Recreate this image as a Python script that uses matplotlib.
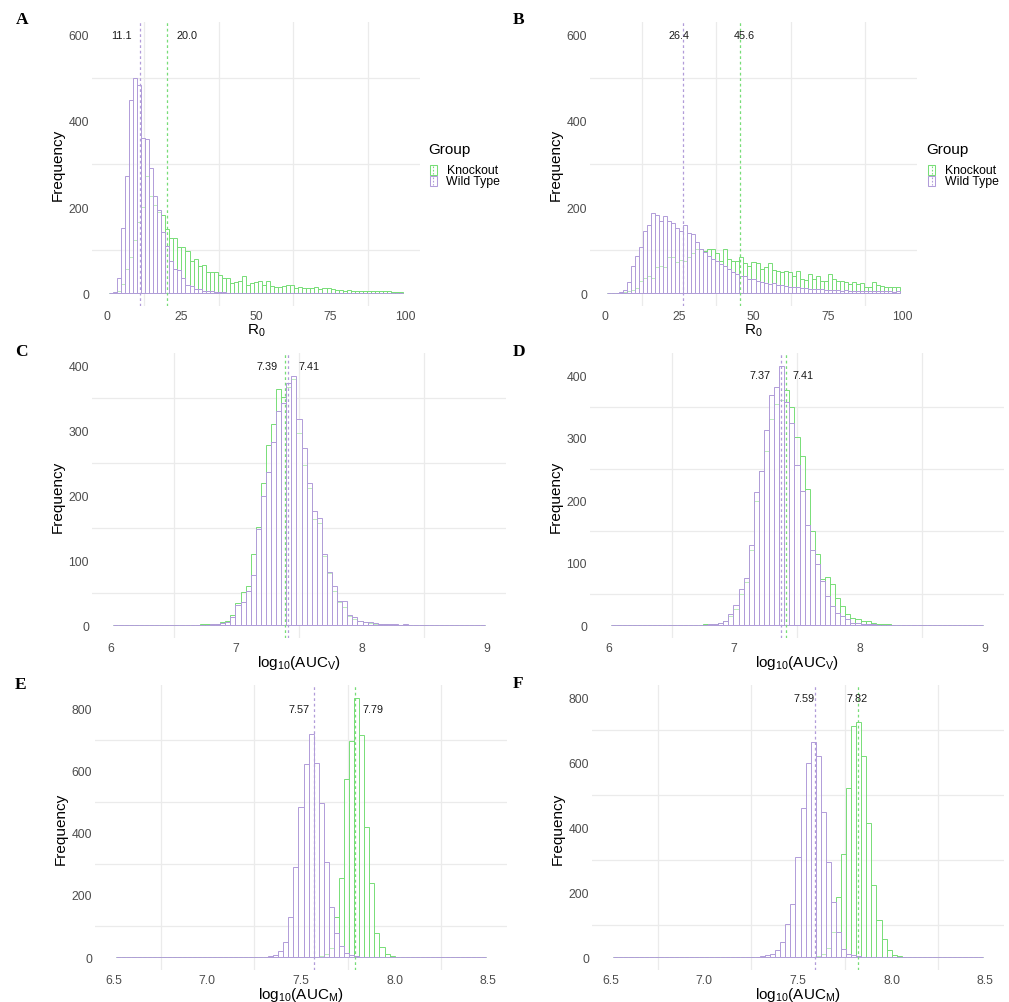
import numpy as np
import matplotlib
matplotlib.use("Agg")
import matplotlib.pyplot as plt
from matplotlib.patches import Rectangle
from matplotlib.lines import Line2D

plt.rcParams["font.family"] = ["Liberation Sans", "DejaVu Sans"]
plt.rcParams["mathtext.fontset"] = "custom"
plt.rcParams["mathtext.rm"] = "Liberation Sans"
plt.rcParams["mathtext.it"] = "Liberation Sans:italic"
plt.rcParams["mathtext.bf"] = "Liberation Sans:bold"

# ---------------------------------------------------------------- data
groups = ["Knockout", "Wild Type"]
N_VISIBLE = 73          # 75 bins over the axis limits; the two outermost are dropped

r0_limits = (0, 100)
aucv_limits = (6, 9)
aucm_limits = (6.5, 8.5)

r0_ticks = [0, 25, 50, 75, 100]
aucv_ticks = [6, 7, 8, 9]
aucm_ticks = [6.5, 7.0, 7.5, 8.0, 8.5]
aucm_tick_labels = ["6.5", "7.0", "7.5", "8.0", "8.5"]

# Panel A (R0, first model) - counts for bins 1..73
A_knockout = [0, 1, 5, 20, 55, 85, 124, 165, 200, 272, 225, 205, 188, 181, 148,
              127, 127, 106, 106, 98, 75, 79, 63, 65, 48, 49, 48, 42, 36, 34,
              23, 25, 28, 39, 19, 23, 25, 28, 19, 29, 17, 15, 15, 17, 19,
              19, 11, 15, 11, 12, 12, 13, 9, 11, 11, 9, 8, 8, 6, 8,
              6, 5, 5, 5, 6, 5, 6, 5, 6, 4, 3, 2, 2]
A_wildtype = [0, 3, 34, 152, 273, 448, 500, 483, 361, 358, 291, 226, 192, 141, 110,
              75, 56, 54, 36, 19, 17, 9, 9, 6, 5, 4, 3, 2, 2, 1,
              1, 1, 0, 1, 0, 0, 0, 0, 0, 0, 0, 0, 0, 0, 0,
              0, 0, 0, 0, 0, 0, 0, 0, 0, 0, 0, 0, 0, 0, 0,
              0, 0, 0, 0, 0, 0, 0, 0, 0, 0, 0, 0, 0]

# Panel B (R0, second model)
B_knockout = [0, 0, 0, 1, 3, 5, 8, 11, 29, 36, 40, 36, 60, 63, 60,
              83, 85, 73, 77, 75, 85, 93, 103, 102, 98, 102, 102, 94, 75, 103,
              80, 75, 75, 83, 71, 63, 73, 71, 56, 60, 69, 54, 52, 49, 52,
              49, 40, 52, 32, 31, 44, 32, 40, 29, 29, 44, 32, 29, 29, 26,
              21, 25, 21, 23, 15, 15, 25, 19, 17, 15, 15, 15, 13]
B_wildtype = [0, 0, 1, 3, 8, 25, 64, 87, 106, 145, 159, 185, 181, 168, 178,
              168, 162, 152, 144, 158, 140, 137, 119, 102, 96, 87, 79, 75, 67, 63,
              56, 49, 44, 40, 39, 32, 32, 29, 26, 23, 21, 23, 19, 19, 17,
              13, 15, 13, 11, 12, 10, 10, 9, 9, 8, 8, 8, 7, 6, 7,
              6, 6, 5, 6, 5, 5, 4, 5, 4, 4, 4, 3, 4]


def from_bin(first_bin, values):
    """Counts for bins 1..73, given the counts that start at bin `first_bin`."""
    arr = np.zeros(N_VISIBLE)
    arr[first_bin - 1:first_bin - 1 + len(values)] = values
    return arr


# Panel C (log10 AUC_V, first model)
C_knockout = from_bin(18, [1, 1, 2, 2, 4, 7, 15, 34, 51, 61, 109, 151, 219, 278, 310,
                           365, 352, 368, 380, 296, 247, 211, 164, 158, 106, 80, 52, 35,
                           28, 14, 10, 6, 4, 3, 2, 2, 1])
C_wildtype = from_bin(20, [1, 2, 3, 5, 12, 31, 35, 53, 78, 148, 200, 237, 283, 331,
                           343, 374, 385, 318, 273, 220, 176, 165, 110, 82, 61, 37, 37,
                           16, 12, 7, 5, 4, 3, 2, 2, 2, 1, 0, 1])
# Panel D (log10 AUC_V, second model)
D_knockout = from_bin(19, [1, 2, 2, 3, 6, 15, 26, 50, 69, 121, 199, 247, 279, 330, 354,
                           361, 376, 349, 302, 270, 218, 150, 113, 73, 77, 66, 44, 31,
                           18, 11, 9, 7, 7, 3, 2, 1, 1])
D_wildtype = from_bin(20, [1, 1, 3, 7, 18, 32, 58, 75, 128, 213, 247, 312, 368, 381,
                           415, 358, 323, 257, 215, 160, 121, 97, 71, 46, 31, 20, 15,
                           9, 4, 3, 2, 1, 1])
# Panel E (log10 AUC_M, first model)
E_knockout = from_bin(40, [1, 4, 11, 30, 130, 254, 572, 695, 834, 716, 420, 237, 78,
                           32, 9, 3, 1])
E_wildtype = from_bin(30, [1, 2, 7, 19, 48, 130, 289, 484, 622, 719, 626, 497, 305,
                           160, 78, 36, 12, 5, 2, 1])
# Panel F (log10 AUC_M, second model)
F_knockout = from_bin(41, [3, 10, 29, 78, 186, 319, 522, 713, 727, 620, 415, 224, 113,
                           55, 22, 7, 3, 1])
F_wildtype = from_bin(29, [1, 2, 5, 10, 21, 46, 103, 165, 308, 461, 600, 665, 620, 449,
                           293, 170, 77, 26, 10, 5, 2])

# medians (Knockout, Wild Type)
A_medians = (20.0, 11.1)
B_medians = (45.6, 26.4)
C_medians = (7.39, 7.41)
D_medians = (7.41, 7.37)
E_medians = (7.79, 7.57)
F_medians = (7.82, 7.59)
median_text = {"A": ("20.0", "11.1"), "B": ("45.6", "26.4"), "C": ("7.39", "7.41"),
               "D": ("7.41", "7.37"), "E": ("7.79", "7.57"), "F": ("7.82", "7.59")}

# ---------------------------------------------------------------- style / layout
W, H, DPI = 1009, 1003, 100
GREEN = "#77DD77"
PURPLE = "#B19CD9"
GRID = "#EBEBEB"
TICK_COLOR = "#4D4D4D"

panels = [
    dict(letter="A", box=(92, 23, 420, 307), lim=r0_limits, ticks=r0_ticks,
         ticklabels=[str(t) for t in r0_ticks], xminor=[12.5, 37.5, 62.5, 87.5],
         ylim=(-30, 630), yticks=[0, 200, 400, 600], yminor=[100, 300, 500],
         data=(A_knockout, A_wildtype), med=A_medians, labx=(27.0, 5.0), laby=600,
         xlabel=r"$\mathrm{R_0}$", letter_xy=(16, 20.5), legend=(428, 150)),
    dict(letter="B", box=(590, 23, 917, 307), lim=r0_limits, ticks=r0_ticks,
         ticklabels=[str(t) for t in r0_ticks], xminor=[12.5, 37.5, 62.5, 87.5],
         ylim=(-30, 630), yticks=[0, 200, 400, 600], yminor=[100, 300, 500],
         data=(B_knockout, B_wildtype), med=B_medians, labx=(46.8, 24.9), laby=600,
         xlabel=r"$\mathrm{R_0}$", letter_xy=(513, 20.5), legend=(926.5, 150)),
    dict(letter="C", box=(92, 354, 506, 639), lim=aucv_limits, ticks=aucv_ticks,
         ticklabels=[str(t) for t in aucv_ticks], xminor=[6.5, 7.5, 8.5],
         ylim=(-20, 420), yticks=[0, 100, 200, 300, 400], yminor=[50, 150, 250, 350],
         data=(C_knockout, C_wildtype), med=C_medians, labx=(7.245, 7.58), laby=400,
         xlabel=r"$\mathrm{log_{10}(AUC_V)}$", letter_xy=(15, 352.5), legend=None),
    dict(letter="D", box=(590, 354, 1004, 639), lim=aucv_limits, ticks=aucv_ticks,
         ticklabels=[str(t) for t in aucv_ticks], xminor=[6.5, 7.5, 8.5],
         ylim=(-20.75, 435.75), yticks=[0, 100, 200, 300, 400], yminor=[50, 150, 250, 350],
         data=(D_knockout, D_wildtype), med=D_medians, labx=(7.548, 7.2035), laby=400,
         xlabel=r"$\mathrm{log_{10}(AUC_V)}$", letter_xy=(513, 352.5), legend=None),
    dict(letter="E", box=(95, 686, 507, 971), lim=aucm_limits, ticks=aucm_ticks,
         ticklabels=aucm_tick_labels, xminor=[6.75, 7.25, 7.75, 8.25],
         ylim=(-41.7, 875.7), yticks=[0, 200, 400, 600, 800], yminor=[100, 300, 500, 700],
         data=(E_knockout, E_wildtype), med=E_medians, labx=(7.882, 7.487), laby=800,
         xlabel=r"$\mathrm{log_{10}(AUC_M)}$", letter_xy=(15, 685), legend=None),
    dict(letter="F", box=(592, 686, 1004, 971), lim=aucm_limits, ticks=aucm_ticks,
         ticklabels=aucm_tick_labels, xminor=[6.75, 7.25, 7.75, 8.25],
         ylim=(-40, 840), yticks=[0, 200, 400, 600, 800], yminor=[100, 300, 500, 700],
         data=(F_knockout, F_wildtype), med=F_medians, labx=(7.8166, 7.533), laby=800,
         xlabel=r"$\mathrm{log_{10}(AUC_M)}$", letter_xy=(513, 684.5), legend=None),
]

fig = plt.figure(figsize=(W / DPI, H / DPI), dpi=DPI)
fig.patch.set_facecolor("white")


def px_to_fig(x, y):
    return x / W, 1 - y / H


for p in panels:
    x0, y0, x1, y1 = p["box"]
    pw, ph = x1 - x0, y1 - y0
    ax = fig.add_axes([x0 / W, 1 - y1 / H, pw / W, ph / H])
    lo, hi = p["lim"]
    span = hi - lo
    ax.set_xlim(lo - 0.05 * span, hi + 0.05 * span)
    ax.set_ylim(*p["ylim"])
    for s in ax.spines.values():
        s.set_visible(False)
    ax.set_facecolor("white")

    # grid (only the minor positions are drawn in the original)
    for xm in p["xminor"]:
        ax.axvline(xm, color=GRID, lw=0.9, zorder=0)
    for ym in p["yminor"]:
        ax.axhline(ym, color=GRID, lw=0.9, zorder=0)

    # histogram bars
    width = span / (N_VISIBLE + 1)
    centers = lo + width * np.arange(1, N_VISIBLE + 1)
    ko, wt = p["data"]
    for counts, col in ((ko, GREEN), (wt, PURPLE)):
        ax.bar(centers, counts, width=width, facecolor=(1, 1, 1, 0.5),
               edgecolor=col, linewidth=0.7, zorder=2)

    # median lines and labels
    texts = median_text[p["letter"]]
    for med, col, lx, txt in zip(p["med"], (GREEN, PURPLE), p["labx"], texts):
        ax.axvline(med, color=col, lw=0.9, ls=(0, (2.2, 2.2)), zorder=3)
        ax.text(lx, p["laby"], txt, ha="center", va="center", fontsize=7.8,
                color="#1A1A1A", zorder=4)

    ax.set_xticks(p["ticks"])
    ax.set_xticklabels(p["ticklabels"])
    ax.set_yticks(p["yticks"])
    ax.set_yticklabels([str(t) for t in p["yticks"]])
    ax.tick_params(length=0, labelsize=8.8, labelcolor=TICK_COLOR)
    ax.tick_params(axis="y", pad=2.2)
    ax.tick_params(axis="x", pad=2.8)

    ax.set_xlabel(p["xlabel"], fontsize=11, va="center")
    ax.xaxis.set_label_coords(0.5, -24.0 / ph)
    ax.set_ylabel("Frequency", fontsize=11, va="center")
    ax.yaxis.set_label_coords(-34.5 / pw, 0.5)

    lx, ly = p["letter_xy"]
    fx, fy = px_to_fig(lx, ly)
    fig.text(fx, fy, p["letter"], ha="left", va="center", fontsize=12.5,
             fontweight="bold", family=["Liberation Serif", "DejaVu Serif"])

    if p["legend"] is not None:
        gx, gy = p["legend"]
        fx, fy = px_to_fig(gx, gy)
        fig.text(fx, fy, "Group", ha="left", va="center", fontsize=11)
        key_w, key_h = 7, 10
        for i, (name, col) in enumerate(zip(groups, (GREEN, PURPLE))):
            ky = 166 + i * 10.5
            kx = gx + 1.5
            bx, by = px_to_fig(kx, ky + key_h)
            fig.add_artist(Rectangle((bx, by), key_w / W, key_h / H,
                                     transform=fig.transFigure, facecolor="white",
                                     edgecolor=col, linewidth=0.75))
            cx, _ = px_to_fig(kx + key_w / 2, 0)
            _, t0 = px_to_fig(0, ky + 1)
            _, t1 = px_to_fig(0, ky + key_h - 1)
            fig.add_artist(Line2D([cx, cx], [t0, t1], transform=fig.transFigure,
                                  color=col, lw=0.8, ls=(0, (1.5, 1.5))))
            tx, ty = px_to_fig(gx + 18.5, ky + key_h / 2)
            fig.text(tx, ty, name, ha="left", va="center", fontsize=8.8)

fig.savefig("out.png", dpi=DPI, facecolor="white")
